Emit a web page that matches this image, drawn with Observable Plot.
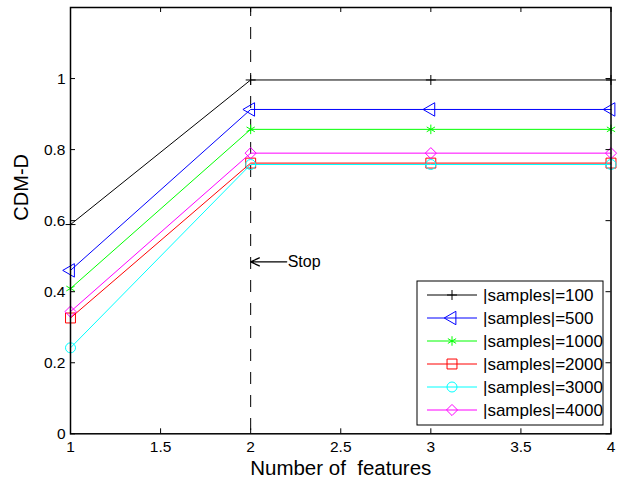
<!DOCTYPE html>
<html><head><meta charset="utf-8">
<script src="https://cdn.jsdelivr.net/npm/d3@7"></script>
<script src="https://cdn.jsdelivr.net/npm/@observablehq/plot@0.6"></script>
<style>
html,body{margin:0;padding:0;background:#fff;}
svg text{white-space:pre;}
</style></head><body><div id="chart"></div>
<script>
// ---- data ----
const features = [1, 2, 3, 4];
const s100  = [0.589, 0.996, 0.996, 0.996];
const s500  = [0.460, 0.913, 0.913, 0.913];
const s1000 = [0.409, 0.857, 0.857, 0.857];
const s2000 = [0.326, 0.762, 0.762, 0.762];
const s3000 = [0.242, 0.758, 0.758, 0.758];
const s4000 = [0.344, 0.790, 0.790, 0.790];
const seriesNames = ["|samples|=100", "|samples|=500", "|samples|=1000", "|samples|=2000", "|samples|=3000", "|samples|=4000"];
const seriesValues = [s100, s500, s1000, s2000, s3000, s4000];
const seriesColors = ["#000000", "#0000ff", "#00ff00", "#ff0000", "#00ffff", "#ff00ff"];
const seriesSymbols = ["plus", "triangle", "asterisk", "square", "circle", "diamond2"];
const seriesRotate = [0, -90, 0, 0, 0, 0];
const seriesR = [3.3, 5, 4.5, 5.6, 5, 5];
const xTicks = [1, 1.5, 2, 2.5, 3, 3.5, 4];
const yTicks = [0, 0.2, 0.4, 0.6, 0.8, 1];
const stopFeature = [2];
const stopArrowFrom = [2.2];
const stopArrowY = [0.484];
const stopLabel = ["Stop"];
const xLabel = ["Number of  features"];
const yLabel = ["CDM-D"];

// ---- layout ----
const W = 618, H = 487;
const mL = 70, mR = 7.5, mT = 7, mB = 53.7;
const frameW = W - mL - mR, frameH = H - mT - mB;
const FONT = "'Liberation Sans', Arial, Helvetica, sans-serif";

const marks = [];
marks.push(Plot.ruleX(stopFeature, {x: d => d, stroke: "black", strokeWidth: 1, strokeDasharray: "12,11", strokeDashoffset: 3}));
seriesValues.forEach((vals, i) => {
  const rows = features.map((f, j) => ({x: f, y: vals[j]}));
  marks.push(Plot.line(rows, {x: "x", y: "y", stroke: seriesColors[i], strokeWidth: 1}));
  marks.push(Plot.dot(rows, {x: "x", y: "y", symbol: seriesSymbols[i], r: seriesR[i], rotate: seriesRotate[i], stroke: seriesColors[i], fill: "none", strokeWidth: 1}));
});
const arrowRows = stopArrowFrom.map((x1, i) => ({x1, x2: stopFeature[i], y: stopArrowY[i], label: stopLabel[i]}));
marks.push(Plot.arrow(arrowRows, {x1: "x1", x2: "x2", y1: "y", y2: "y", stroke: "black", strokeWidth: 1.3, headLength: 11, headAngle: 50}));
marks.push(Plot.text(arrowRows, {x: "x1", y: "y", text: "label", textAnchor: "start", dx: 1, fontSize: 16, fill: "black"}));
// inner ticks on all four sides
marks.push(Plot.ruleX(xTicks, {x: d => d, insetTop: frameH - 5, stroke: "black"}));
marks.push(Plot.ruleX(xTicks, {x: d => d, insetBottom: frameH - 5, stroke: "black"}));
marks.push(Plot.ruleY(yTicks, {y: d => d, insetRight: frameW - 5, stroke: "black"}));
marks.push(Plot.ruleY(yTicks, {y: d => d, insetLeft: frameW - 5, stroke: "black"}));
marks.push(Plot.frame({stroke: "black", strokeWidth: 1.5}));
marks.push(Plot.axisX({ticks: xTicks, tickSize: 0, tickPadding: 7.5, tickFormat: d => String(d), fontSize: 15.5, label: null}));
marks.push(Plot.axisY({ticks: yTicks, tickSize: 0, tickPadding: 5, tickFormat: d => String(d), fontSize: 15.5, label: null}));
marks.push(Plot.text(xLabel, {text: d => d, frameAnchor: "bottom", dy: 41, fontSize: 20.5, fill: "black"}));
marks.push(Plot.text(yLabel, {text: d => d, frameAnchor: "left", dx: -49, rotate: -90, fontSize: 20, fill: "black"}));

const svg = Plot.plot({
  width: W, height: H,
  marginLeft: mL, marginRight: mR, marginTop: mT, marginBottom: mB,
  x: {domain: [1, 4]},
  y: {domain: [0, 1.2]},
  style: {fontFamily: FONT, fontSize: "16px", background: "white", color: "black"},
  marks
});

// ---- legend (inside plot area) ----
const lg = d3.select(svg).append("g").attr("font-family", FONT).attr("text-anchor", "start");
const lx = 417, ly = 281, lw = 186, lh = 144, step = 23, first = 295;
lg.append("rect").attr("x", lx).attr("y", ly).attr("width", lw).attr("height", lh)
  .attr("fill", "white").attr("stroke", "black").attr("stroke-width", 1);
const symMap = {plus: d3.symbolPlus, triangle: d3.symbolTriangle, asterisk: d3.symbolAsterisk,
  square: d3.symbolSquare, circle: d3.symbolCircle, diamond2: d3.symbolDiamond2};
seriesNames.forEach((name, i) => {
  const y = first + i * step;
  lg.append("line").attr("x1", 427).attr("x2", 477).attr("y1", y).attr("y2", y)
    .attr("stroke", seriesColors[i]).attr("stroke-width", 1);
  lg.append("path").attr("d", d3.symbol(symMap[seriesSymbols[i]], Math.PI * seriesR[i] * seriesR[i])())
    .attr("transform", `translate(452,${y}) rotate(${seriesRotate[i]})`)
    .attr("fill", "none").attr("stroke", seriesColors[i]).attr("stroke-width", 1);
  lg.append("text").attr("x", 483).attr("y", y).attr("dy", "0.35em").attr("text-anchor", "start")
    .attr("font-size", 17).attr("fill", "black").text(name);
});

document.getElementById("chart").appendChild(svg);
</script></body></html>
